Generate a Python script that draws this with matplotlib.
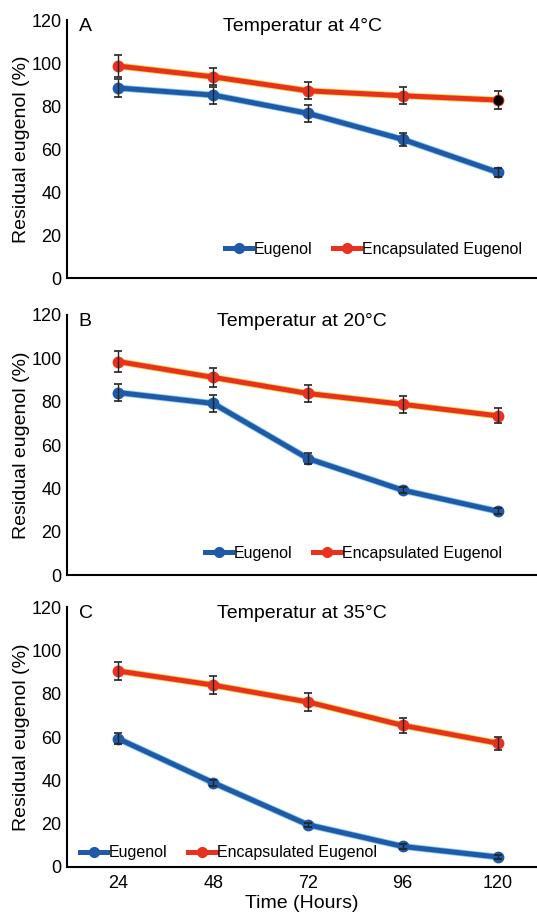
import matplotlib.pyplot as plt
import matplotlib.patheffects as pe
from matplotlib.lines import Line2D

plt.rcParams['font.family'] = ['Liberation Sans', 'DejaVu Sans']

# data
hours = [24, 48, 72, 96, 120]
panels = ['A', 'B', 'C']
temps = ['4', '20', '35']

eug = [[88.4, 85.1, 76.6, 64.5, 49.2],
       [84.2, 79.2, 53.8, 39.2, 29.5],
       [59.2, 38.9, 19.5, 9.5, 4.6]]
eug_err = [[4, 4, 4, 3, 2],
           [4, 4, 2.5, 1.5, 1.5],
           [2.5, 1.5, 1, 1, 1]]
enc = [[98.6, 93.6, 87.1, 84.8, 82.8],
       [98.5, 91.2, 83.8, 78.8, 73.5],
       [90.5, 84.0, 76.2, 65.4, 57.2]]
enc_err = [[5, 4, 4, 4, 4],
           [5, 4.5, 4, 4, 3.5],
           [4, 4, 4, 3.5, 3]]

blue = '#1f5aa8'
red = '#e8321e'
glow_blue = '#7cc4ec'
glow_red = '#f2d43a'

fig = plt.figure(figsize=(5.37, 9.13), dpi=100)
axes_pos = [[0.125, 0.6955, 0.875, 0.2825],
            [0.125, 0.370, 0.875, 0.285],
            [0.125, 0.0504, 0.875, 0.2846]]
leg_pos = [(0.336, 0.112), (0.294, 0.085), (0.028, 0.054)]


def series(ax, y, err, color, glow):
    ax.plot(hours, y, '-', color=color, lw=3.6, solid_capstyle='round',
            path_effects=[pe.Stroke(linewidth=4.8, foreground=glow), pe.Normal()])
    ax.plot(hours, y, 'o', color=color, ms=7.5, zorder=3)
    ax.errorbar(hours, y, yerr=err, fmt='none', ecolor='#222222', elinewidth=1,
                capsize=3, capthick=1.2, zorder=4)


for i in range(3):
    ax = fig.add_axes(axes_pos[i])
    series(ax, eug[i], eug_err[i], blue, glow_blue)
    series(ax, enc[i], enc_err[i], red, glow_red)
    if i == 0:
        # odd black marker on last point in panel A
        ax.plot(hours[-1], enc[i][-1], 'o', color='black', ms=6, zorder=5)

    ax.set_xlim(11, 130)
    ax.set_ylim(0, 120)
    ax.set_yticks([0, 20, 40, 60, 80, 100, 120])
    ax.spines['top'].set_visible(False)
    ax.spines['right'].set_visible(False)
    ax.spines['left'].set_linewidth(1.5)
    ax.spines['bottom'].set_linewidth(1.5)
    ax.tick_params(axis='y', length=0, labelsize=13, pad=4)
    ax.set_ylabel('Residual eugenol (%)', fontsize=14, labelpad=1)
    ax.text(0.025, 0.975, panels[i], transform=ax.transAxes, fontsize=14,
            va='center', ha='left')
    ax.text(0.5, 0.975, 'Temperatur at ' + temps[i] + '°C', transform=ax.transAxes,
            fontsize=14, va='center', ha='center')

    handles = [Line2D([], [], color=blue, lw=3.6, marker='o', ms=7),
               Line2D([], [], color=red, lw=3.6, marker='o', ms=7)]
    ax.legend(handles, ['Eugenol', 'Encapsulated Eugenol'], loc='center left',
              bbox_to_anchor=leg_pos[i], ncol=2, frameon=False,
              fontsize=11.5, handlelength=1.7, handletextpad=0.1, columnspacing=1.3,
              borderaxespad=0, borderpad=0)
    if i == 2:
        ax.set_xticks(hours)
        ax.tick_params(axis='x', length=0, labelsize=13, pad=6)
        ax.set_xlabel('Time (Hours)', fontsize=14, labelpad=2)
    else:
        ax.set_xticks([])

fig.savefig('out.png', dpi=100)
